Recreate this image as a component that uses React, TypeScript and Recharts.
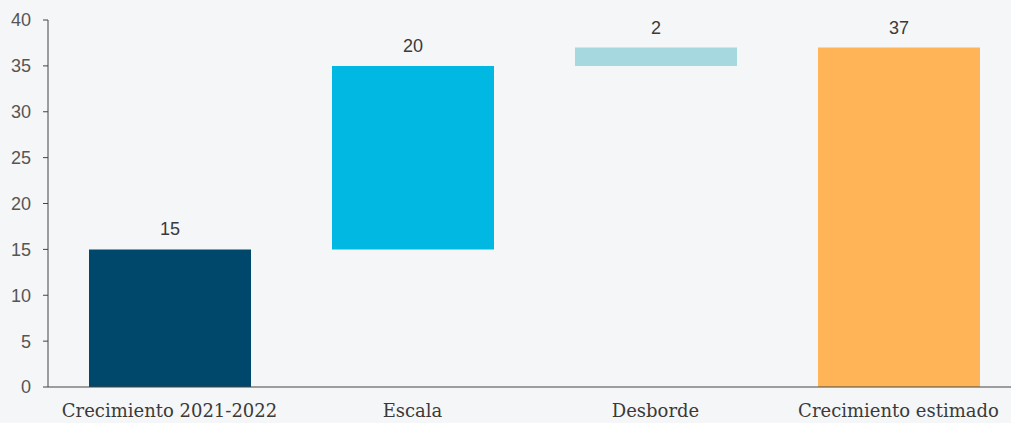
import { Bar, BarChart, Cell, LabelList, XAxis, YAxis } from 'recharts';

const categories = ['Crecimiento 2021-2022', 'Escala', 'Desborde', 'Crecimiento estimado'];
const baseValues = [0, 15, 35, 0];
const stepValues = [15, 20, 2, 37];
const yTicks = [0, 5, 10, 15, 20, 25, 30, 35, 40];
const boundaryTicks = [0, 1, 2, 3, 4];

const COLORS = ['#00476c', '#00b8e1', '#a6d8df', '#ffb557'];

const data = categories.map((name, i) => ({
  name,
  base: baseValues[i],
  value: stepValues[i],
}));

const App = () => {
  return (
    <div
      style={{
        position: 'absolute',
        top: 0,
        left: 0,
        width: 1011,
        height: 423,
        overflow: 'hidden',
        background: '#f5f6f8',
      }}
    >
      <BarChart
        width={1020}
        height={423}
        data={data}
        margin={{ top: 20, right: 0, bottom: 0, left: 0 }}
        barSize={162}
      >
        <XAxis
          xAxisId="cat"
          dataKey="name"
          height={36}
          tickLine={false}
          axisLine={{ stroke: '#444' }}
          tick={{ fill: '#3a3a3a', fontSize: 18, fontFamily: 'DejaVu Serif', fontWeight: 300 }}
          tickMargin={11}
        />
        <XAxis
          xAxisId="edge"
          type="number"
          domain={[0, 4]}
          ticks={boundaryTicks}
          height={0}
          axisLine={false}
          tick={false}
          tickLine={{ stroke: '#444' }}
          tickSize={6}
          orientation="bottom"
        />
        <YAxis
          width={48}
          domain={[0, 40]}
          ticks={yTicks}
          interval={0}
          axisLine={{ stroke: '#444' }}
          tickLine={{ stroke: '#444' }}
          tickSize={5}
          tickMargin={12}
          tick={{ fill: '#555', fontSize: 18, fontFamily: 'Liberation Sans' }}
        />
        <Bar xAxisId="cat" dataKey="base" stackId="w" fill="transparent" isAnimationActive={false} />
        <Bar xAxisId="cat" dataKey="value" stackId="w" isAnimationActive={false}>
          {data.map((entry, index) => (
            <Cell key={entry.name} fill={COLORS[index]} />
          ))}
          <LabelList
            dataKey="value"
            position="top"
            offset={14}
            fill="#3a3a3a"
            fontSize={18}
            fontFamily="Liberation Sans"
          />
        </Bar>
      </BarChart>
    </div>
  );
};

export default App;
